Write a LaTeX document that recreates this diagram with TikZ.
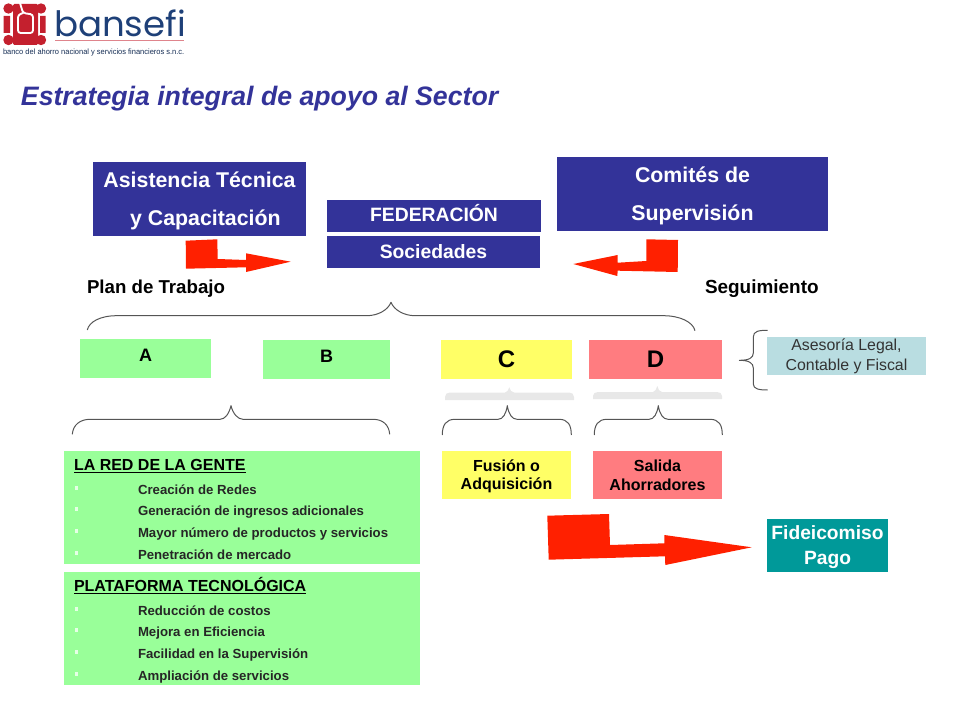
\documentclass[tikz,border=0pt]{standalone}
\usepackage{fontspec}
\setmainfont{Liberation Sans}
\definecolor{navy}{HTML}{333399}
\definecolor{mint}{HTML}{99FF99}
\definecolor{lemon}{HTML}{FFFF66}
\definecolor{salmon}{HTML}{FF7C80}
\definecolor{paleteal}{HTML}{B9DDE1}
\definecolor{teal2}{HTML}{009999}
\definecolor{arrowred}{HTML}{FF2000}
\definecolor{bracegray}{HTML}{555555}
\definecolor{ghost}{HTML}{E8E8E8}
\definecolor{logored}{HTML}{C4202E}
\definecolor{logoblue}{HTML}{1E4078}
\newcommand{\fs}[1]{\fontsize{#1}{#1}\selectfont}
\tikzset{
  box/.style={fill=#1,draw=none,inner sep=0pt,outer sep=0pt,align=center,font=\bfseries},
  navybox/.style={box=navy,text=white},
  txt/.style={inner sep=0pt,outer sep=0pt,anchor=base west},
  brace/.style={draw=bracegray,line width=0.75pt,line join=round},
  redarrow/.style={fill=arrowred,draw=none},
  bullet/.style={fill=white!75!mint,draw=none,minimum size=2.5pt,inner sep=0pt},
  item/.style={txt,font=\bfseries\fs{9.9},text=black!85}
}
\begin{document}
\begin{tikzpicture}[x=0.75pt,y=-0.75pt]
\useasboundingbox (0,0) rectangle (960,720);
% logo
\fill[logored] (8.5,8.5) circle (5.2) (41,8.5) circle (5.2) (8.5,40) circle (5.2) (41,40) circle (5.2);
\fill[logored] (3.5,16) rectangle (10,33) (40,16) rectangle (45.5,33);
\fill[logored,rounded corners=1pt] (13,4) rectangle (38,45);
\draw[white,line width=1.4pt,rounded corners=2pt] (20,3) -- (23,13) -- (33,14.5) -- (33,33) -- (18,33) -- (18,15) -- (23,13);
% logo name
\node[txt,text=logoblue] (logoname) at (54,37) {\resizebox{99pt}{20pt}{\fontspec{Poppins}bansefi}};
\fill[logored!55] (55,40.2) rectangle (184,41.4);
\node[txt,text=logoblue!70!black] (logosub) at (3,55) {\resizebox{136pt}{4.2pt}{\fs{6}banco del ahorro nacional y servicios financieros s.n.c.}};
% title
\node[txt,text=navy,font=\bfseries\itshape\fs{20}] (title) at (21,106) {Estrategia integral de apoyo al Sector};
% top boxes
\node[navybox,minimum width=160pt,minimum height=55.5pt,font=\bfseries\fs{16}] (asist) at (199.5,199) {\rule{0pt}{15pt}Asistencia Técnica\\[12.5pt] \ \ y Capacitación};
\node[navybox,minimum width=160.5pt,minimum height=24pt,font=\bfseries\fs{14.5}] (fed) at (434,216) {\raisebox{4.5pt}{FEDERACIÓN}};
\node[navybox,minimum width=159.75pt,minimum height=24pt,font=\bfseries\fs{14.5}] (soc) at (433.5,252) {Sociedades};
\node[navybox,minimum width=203.25pt,minimum height=55.5pt,font=\bfseries\fs{16}] (comite) at (692.5,194) {\rule{0pt}{15pt}Comités de\\[12.5pt]Supervisión};
% red arrows
\fill[redarrow] (185.7,240.7) -- (217.3,239.3) -- (217.7,259) -- (246,260) -- (246,253.3) -- (290.7,261.7) -- (246,272) -- (246,267.3) -- (186,268.7) -- cycle;
\fill[redarrow] (646.3,239.3) -- (678,240) -- (677.7,272) -- (617.7,270.7) -- (617.3,276) -- (573.3,264) -- (617.7,255) -- (617.7,262.7) -- (646.3,261) -- cycle;
\fill[redarrow] (547.3,515.7) -- (609,514) -- (610,545) -- (664.3,543.3) -- (664.3,535) -- (751.7,547.3) -- (665.3,565) -- (665,556.3) -- (548.7,559.7) -- cycle;
% labels
\node[txt,font=\bfseries\fs{14}] (plan) at (87,293) {Plan de Trabajo};
\node[txt,font=\bfseries\fs{14.2}] (seg) at (705,293) {Seguimiento};
% big brace
\draw[brace] (87.3,330) .. controls (89,322) and (100,315.7) .. (116.7,315.7) -- (366.7,315.7) .. controls (378,315.7) and (388,310) .. (391,302.3) .. controls (394,310) and (404,315.7) .. (415,315.7) -- (663.3,315.7) .. controls (680,315.7) and (693,322) .. (695,330.7);
% letter boxes
\node[box=mint,minimum width=98.25pt,minimum height=29.25pt,font=\bfseries\fs{13.5}] (A) at (145.5,358.5) {\raisebox{5pt}{A}};
\node[box=mint,minimum width=95.25pt,minimum height=29.25pt,font=\bfseries\fs{13.5}] (B) at (326.5,359.5) {\raisebox{5pt}{B}};
\node[box=lemon,minimum width=98.25pt,minimum height=29.25pt,font=\bfseries\fs{18}] (C) at (506.5,359.5) {C};
\node[box=salmon,minimum width=99.75pt,minimum height=29.25pt,font=\bfseries\fs{18}] (D) at (655.5,359.5) {D};
% ghost braces
\fill[ghost] (445,400) -- (445,397) .. controls (445,394) and (447,392.5) .. (450,392.5) -- (505,392.5) .. controls (507,392.5) and (508.5,390) .. (509.3,387.3) .. controls (510,390) and (511.5,392.5) .. (514,392.5) -- (569,392.5) .. controls (572,392.5) and (574,394) .. (574,397) -- (574,400) -- cycle;
\fill[ghost] (593,399) -- (593,396) .. controls (593,393.5) and (595,392) .. (598,392) -- (653,392) .. controls (655,392) and (656.5,389) .. (657.3,386) .. controls (658,389) and (659.5,392) .. (662,392) -- (717,392) .. controls (720,392) and (722,393.5) .. (722,396) -- (722,399) -- cycle;
% lower braces
\draw[brace] (72.3,434.3) .. controls (73,425) and (80,419.3) .. (90,419.3) -- (220,419.3) .. controls (225,419.3) and (229,414) .. (231,405.7) .. controls (233,414) and (238,419.3) .. (243,419.3) -- (373,419.3) .. controls (383,419.3) and (389,425) .. (389.7,434.3);
\draw[brace] (442.3,435) .. controls (442.3,425) and (446,419.3) .. (455,419.3) -- (498,419.3) .. controls (503,419.3) and (506,414) .. (507.3,405.7) .. controls (508.6,414) and (512,419.3) .. (517,419.3) -- (559,419.3) .. controls (568,419.3) and (571.3,425) .. (571.3,435);
\draw[brace] (594.3,435) .. controls (594.3,425) and (598,419.3) .. (607,419.3) -- (649,419.3) .. controls (654,419.3) and (657,414) .. (658.3,405.7) .. controls (659.6,414) and (663,419.3) .. (668,419.3) -- (710,419.3) .. controls (719,419.3) and (722.3,425) .. (722.3,435);
% right brace
\draw[brace] (767.7,330.3) .. controls (759,330.3) and (753.3,331) .. (753.3,337) -- (753.3,353) .. controls (753.3,358) and (749,360.3) .. (739.3,360.3) .. controls (749,360.3) and (753.3,363) .. (753.3,368) -- (753.3,384) .. controls (753.3,389) and (759,390) .. (767.7,390);
% Asesoria
\node[box=paleteal,minimum width=119.25pt,minimum height=28.5pt,font=\mdseries\fs{11.9},text=black!80] (ases) at (846.5,356) {Asesoría Legal,\\[3pt]Contable y Fiscal};
% green panels
\node[box=mint,minimum width=267pt,minimum height=84.75pt] (red) at (242,507.5) {};
\node[box=mint,minimum width=267pt,minimum height=84.75pt] (plat) at (242,628.5) {};
\node[txt,font=\bfseries\fs{12}] (redT) at (74,470) {\underline{LA RED DE LA GENTE}};
\node[item] (r1) at (138,494) {Creación de Redes};
\node[item] (r2) at (138,515) {Generación de ingresos adicionales};
\node[item] (r3) at (138,537) {Mayor número de productos y servicios};
\node[item] (r4) at (138,559) {Penetración de mercado};
\node[txt,font=\bfseries\fs{12}] (platT) at (74,591) {\underline{PLATAFORMA TECNOLÓGICA}};
\node[item] (p1) at (138,615) {Reducción de costos};
\node[item] (p2) at (138,636) {Mejora en Eficiencia};
\node[item] (p3) at (138,658) {Facilidad en la Supervisión};
\node[item] (p4) at (138,680) {Ampliación de servicios};
\foreach \n/\y in {b1/488,b2/509,b3/531,b4/553,b5/609,b6/630,b7/652,b8/674}
  \node[bullet] (\n) at (76.5,\y) {};
% result boxes
\node[box=lemon,minimum width=96.75pt,minimum height=36pt,font=\bfseries\fs{12}] (fus) at (506.5,475) {\rule{0pt}{10.5pt}Fusión o\\[2pt]Adquisición};
\node[box=salmon,minimum width=96.75pt,minimum height=36pt,font=\bfseries\fs{12}] (sal) at (657.5,475) {Salida\\[2pt]Ahorradores};
\node[box=teal2,text=white,minimum width=90.75pt,minimum height=39.75pt,font=\bfseries\fs{14.4}] (fid) at (827.5,545.5) {\rule{0pt}{12.3pt}Fideicomiso\\[4.5pt]Pago};
\end{tikzpicture}
\end{document}
